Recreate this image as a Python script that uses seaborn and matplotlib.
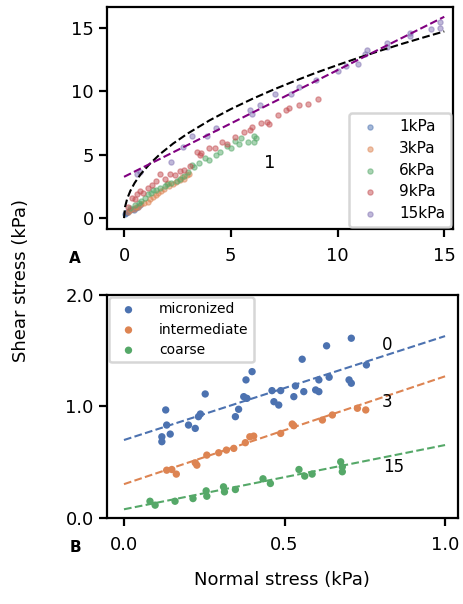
import numpy as np
import pandas as pd
import seaborn as sns
import matplotlib.pyplot as plt

# ---- panel A data ----
kpa1_x = [0.05, 0.1, 0.15, 0.2, 0.3, 0.4, 0.45, 0.55, 0.65, 0.75]
kpa1_y = [0.3, 0.4, 0.5, 0.45, 0.6, 0.7, 0.65, 0.8, 0.9, 1.0]

kpa3_x = [0.2, 0.3, 0.45, 0.55, 0.65, 0.8, 0.95, 1.1, 1.2, 1.35, 1.5, 1.6,
          1.75, 1.85, 2.05, 2.1, 2.3, 2.45, 2.6, 2.7, 2.8, 2.95, 3.05]
kpa3_y = [0.5, 0.6, 0.75, 0.85, 0.9, 1.1, 1.2, 1.3, 1.5, 1.65, 1.8, 1.95,
          2.1, 2.3, 2.75, 2.5, 2.7, 2.85, 3.0, 3.25, 3.1, 3.4, 3.5]

kpa6_x = [0.3, 0.5, 0.7, 0.8, 1.0, 1.1, 1.25, 1.35, 1.5, 1.7, 1.9, 2.0, 2.2,
          2.5, 2.6, 2.8, 3.0, 3.2, 3.3, 3.5, 3.8, 4.0, 4.3, 4.5, 4.8, 5.0,
          5.2, 5.4, 5.5, 5.8, 6.1, 6.1, 6.2]
kpa6_y = [0.8, 1.0, 1.2, 1.35, 1.6, 1.9, 2.0, 2.2, 2.25, 2.4, 2.5, 2.7, 2.8,
          2.9, 3.1, 3.3, 3.6, 4.2, 4.0, 4.3, 4.7, 4.6, 5.0, 5.2, 5.7, 5.5,
          6.1, 5.8, 6.3, 6.0, 6.5, 6.0, 6.3]

kpa9_x = [0.2, 0.35, 0.5, 0.6, 0.75, 0.9, 1.1, 1.3, 1.5, 1.68, 1.9, 2.15,
          2.4, 2.6, 2.8, 3.1, 3.4, 3.55, 3.6, 4.0, 4.25, 4.6, 4.8, 5.2, 5.6,
          5.9, 6.0, 6.4, 6.7, 6.8, 7.2, 7.6, 7.75, 8.2, 8.6, 9.1]
kpa9_y = [0.9, 1.6, 1.5, 1.9, 2.1, 2.0, 2.4, 2.6, 2.9, 3.5, 3.1, 3.5,
          3.4, 3.7, 3.8, 4.1, 5.2, 5.0, 5.1, 5.5, 5.5, 6.0, 5.8, 6.4, 6.8,
          6.9, 7.2, 7.5, 7.6, 7.4, 8.1, 8.5, 8.7, 8.9, 9.0, 9.4]

kpa15_x = [0.6, 0.75, 2.2, 2.77, 3.2, 3.9, 4.3, 5.9, 6.0, 6.35, 7.05, 7.8,
           8.2, 9.0, 10.0, 10.4, 10.95, 11.3, 11.4, 12.3, 12.3, 13.4, 13.4,
           14.4, 14.8, 14.8]
kpa15_y = [3.5, 3.6, 4.4, 5.6, 6.45, 6.5, 7.1, 8.5, 8.2, 8.9, 9.8, 9.8,
           10.3, 10.9, 11.6, 12.0, 12.1, 12.9, 13.2, 13.8, 13.5, 14.6, 14.3,
           14.9, 15.4, 15.0]

# fitted curves in panel A
curve_x = [0, 0.05, 0.15, 0.3, 0.5, 0.8, 1.2, 1.7, 2.3, 3, 4, 5, 6, 7, 8, 9,
           10, 11, 12, 13, 14, 15]
curve_y = [0, 0.90, 1.54, 2.16, 2.78, 3.50, 4.26, 5.06, 5.87, 6.68, 7.69,
           8.58, 9.38, 10.12, 10.80, 11.45, 12.05, 12.63, 13.18, 13.71,
           14.21, 14.70]
line15_x = [0, 15]
line15_y = [3.25, 15.85]

# ---- panel B data ----
micro_x = [0.130, 0.133, 0.118, 0.118, 0.144, 0.201, 0.222, 0.232, 0.238,
           0.253, 0.347, 0.357, 0.373, 0.380, 0.383, 0.399, 0.461, 0.467,
           0.482, 0.488, 0.529, 0.534, 0.555, 0.560, 0.597, 0.607, 0.607,
           0.631, 0.639, 0.701, 0.708, 0.708, 0.755]
micro_y = [0.969, 0.834, 0.729, 0.685, 0.753, 0.834, 0.804, 0.909, 0.933,
           1.112, 0.909, 0.975, 1.088, 1.238, 1.073, 1.312, 1.142, 1.043,
           1.013, 1.142, 1.088, 1.184, 1.423, 1.133, 1.148, 1.133, 1.238,
           1.543, 1.262, 1.238, 1.208, 1.611, 1.372]

inter_x = [0.133, 0.149, 0.163, 0.222, 0.227, 0.258, 0.295, 0.319, 0.342,
           0.378, 0.392, 0.404, 0.488, 0.524, 0.529, 0.618, 0.649, 0.727,
           0.753]
inter_y = [0.430, 0.436, 0.395, 0.496, 0.475, 0.565, 0.586, 0.610, 0.625,
           0.676, 0.729, 0.735, 0.759, 0.843, 0.828, 0.879, 0.924, 0.984,
           0.969]

coarse_x = [0.081, 0.097, 0.159, 0.215, 0.256, 0.258, 0.310, 0.313, 0.347,
            0.433, 0.456, 0.545, 0.563, 0.586, 0.675, 0.680, 0.680]
coarse_y = [0.152, 0.117, 0.152, 0.176, 0.245, 0.197, 0.281, 0.236, 0.257,
            0.353, 0.311, 0.436, 0.377, 0.395, 0.505, 0.416, 0.460]

fit_x = [0, 1]
fit_micro = [0.70, 1.63]
fit_inter = [0.305, 1.27]
fit_coarse = [0.08, 0.655]

sns.set_style('ticks')
plt.rcParams['text.color'] = 'black'
plt.rcParams['axes.labelcolor'] = 'black'
pal = sns.color_palette('deep')

fig = plt.figure(figsize=(4.63, 6.04), dpi=100)
ax1 = fig.add_axes([0.231, 0.621, 0.747, 0.367])
ax2 = fig.add_axes([0.231, 0.142, 0.758, 0.370])

''' Panel A '''
groups = [(kpa1_x, kpa1_y, '1kPa'), (kpa3_x, kpa3_y, '3kPa'),
          (kpa6_x, kpa6_y, '6kPa'), (kpa9_x, kpa9_y, '9kPa'),
          (kpa15_x, kpa15_y, '15kPa')]
cols = [pal[0], pal[1], pal[2], pal[3], pal[4]]
for (gx, gy, lab), c in zip(groups, cols):
    sns.scatterplot(x=gx, y=gy, ax=ax1, color=c, s=14, alpha=0.5,
                    edgecolor=c, linewidth=0.9, label=lab)
ax1.plot(curve_x, curve_y, 'k--', lw=1.5)
ax1.plot(line15_x, line15_y, '--', color='purple', lw=1.5)
ax1.text(6.8, 4.3, '1', fontsize=13, ha='center', va='center')
ax1.set_xlim(-0.8, 15.4)
ax1.set_ylim(-0.85, 16.6)
ax1.set_xticks([0, 5, 10, 15])
ax1.set_yticks([0, 5, 10, 15])
leg1 = ax1.legend(loc='lower right', fontsize=11, labelspacing=0.45,
                  handletextpad=0.9, borderaxespad=0.1)
leg1.get_frame().set_linewidth(1.8)

''' Panel B '''
sns.scatterplot(x=micro_x, y=micro_y, ax=ax2, color=pal[0], s=28,
                edgecolor='none', label='micronized')
sns.scatterplot(x=inter_x, y=inter_y, ax=ax2, color=pal[1], s=28,
                edgecolor='none', label='intermediate')
sns.scatterplot(x=coarse_x, y=coarse_y, ax=ax2, color=pal[2], s=28,
                edgecolor='none', label='coarse')
ax2.plot(fit_x, fit_micro, '--', color=pal[0], lw=1.5)
ax2.plot(fit_x, fit_inter, '--', color=pal[1], lw=1.5)
ax2.plot(fit_x, fit_coarse, '--', color=pal[2], lw=1.5)
ax2.text(0.82, 1.55, '0', fontsize=12, ha='center', va='center')
ax2.text(0.82, 1.04, '3', fontsize=12, ha='center', va='center')
ax2.text(0.84, 0.46, '15', fontsize=12, ha='center', va='center')
ax2.set_xlim(-0.053, 1.04)
ax2.set_ylim(0, 2)
ax2.set_xticks([0, 0.5, 1.0])
ax2.set_xticklabels(['0.0', '0.5', '1.0'])
ax2.set_yticks([0, 1, 2])
ax2.set_yticklabels(['0.0', '1.0', '2.0'])
leg2 = ax2.legend(loc='upper left', fontsize=10, labelspacing=0.45,
                  handletextpad=1.2, borderaxespad=0.15)
leg2.get_frame().set_linewidth(1.8)
ax2.set_xlabel('Normal stress (kPa)', fontsize=13, labelpad=12)

for ax in (ax1, ax2):
    for sp in ax.spines.values():
        sp.set_linewidth(1.6)
        sp.set_color('black')
    ax.tick_params(length=6, width=1.6, labelsize=13, colors='black')
    ax.tick_params(axis='x', pad=7)

fig.text(0.045, 0.536, 'Shear stress (kPa)', rotation=90, fontsize=13,
         ha='center', va='center')
fig.text(0.162, 1 - 258 / 604, 'A', fontsize=11, fontweight='bold',
         ha='center', va='center')
fig.text(0.162, 1 - 547 / 604, 'B', fontsize=11, fontweight='bold',
         ha='center', va='center')

plt.savefig('out.png', dpi=100)
